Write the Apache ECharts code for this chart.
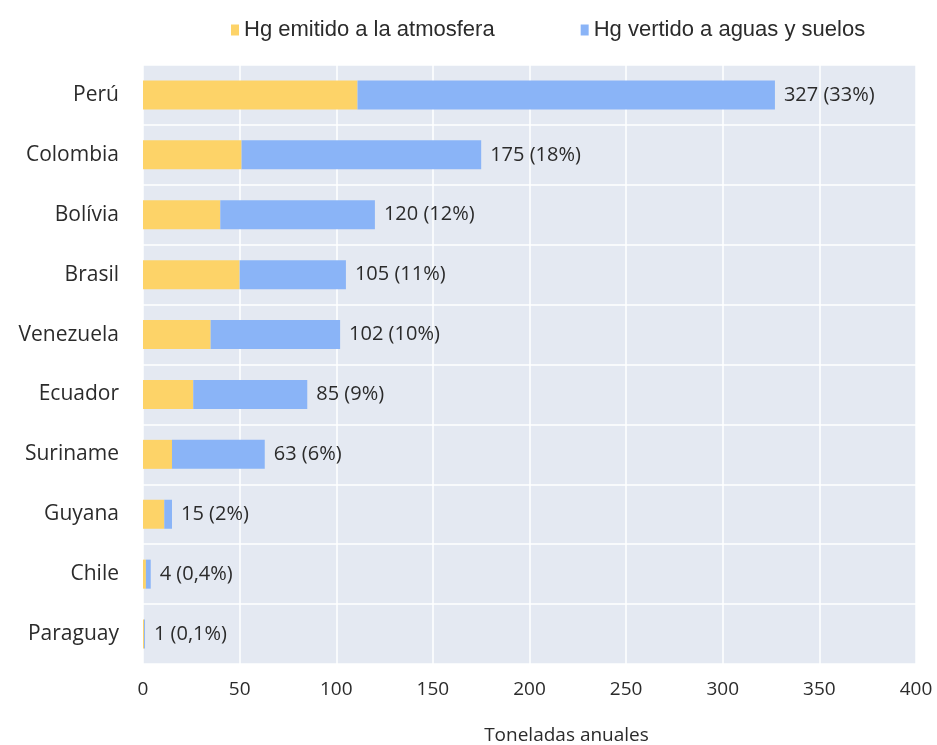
<!DOCTYPE html>
<html>
<head>
<meta charset="utf-8">
<script src="https://cdn.jsdelivr.net/npm/echarts@6/dist/echarts.min.js"></script>
<style>
  html, body { margin: 0; padding: 0; background: #ffffff; }
  #chart { width: 937px; height: 745px; }
</style>
</head>
<body>
<div id="chart"></div>
<script>
// Mercury released by artisanal gold mining, tonnes per year
const countries = ['Perú', 'Colombia', 'Bolívia', 'Brasil', 'Venezuela', 'Ecuador', 'Suriname', 'Guyana', 'Chile', 'Paraguay'];
const emittedAir = [111, 51, 40, 50, 35, 26, 15, 11, 1.5, 0.5];
const releasedWaterSoil = [216, 124, 80, 55, 67, 59, 48, 4, 2.5, 0.5];
const totalLabels = ['327 (33%)', '175 (18%)', '120 (12%)', '105 (11%)', '102 (10%)', '85 (9%)', '63 (6%)', '15 (2%)', '4 (0,4%)', '1 (0,1%)'];
const seriesNames = ['Hg emitido a la atmosfera', 'Hg vertido a aguas y suelos'];

const labelFont = '"Open Sans", "Noto Sans", sans-serif';
const textColor = '#2b2b2b';
const chart = echarts.init(document.getElementById('chart'));

chart.setOption({
  animation: false,
  backgroundColor: '#ffffff',
  color: ['#fdd368', '#8ab4f7'],
  legend: {
    top: 14,
    left: 226,
    itemGap: 86,
    itemWidth: 8,
    itemHeight: 11,
    icon: 'rect',
    textStyle: { fontFamily: '"Liberation Sans", Arial, sans-serif', fontSize: 22, color: textColor },
    data: seriesNames
  },
  grid: {
    left: 143, right: 21, top: 65, bottom: 81,
    outerBoundsMode: 'none',
    show: true, backgroundColor: '#e4e9f2', borderWidth: 0,
    containLabel: false
  },
  xAxis: {
    type: 'value',
    min: 0, max: 400, interval: 50,
    name: 'Toneladas anuales',
    nameLocation: 'middle',
    nameGap: 62,
    nameTextStyle: { fontFamily: labelFont, fontSize: 19, color: textColor, padding: [0, 0, 0, 74] },
    axisLine: { show: false },
    axisTick: { show: false },
    axisLabel: { margin: 16, fontFamily: labelFont, fontSize: 19, color: textColor },
    splitLine: { show: true, lineStyle: { color: '#ffffff', width: 1.5 } }
  },
  yAxis: {
    type: 'category',
    inverse: true,
    data: countries,
    axisLine: { show: false },
    axisTick: { show: false },
    axisLabel: { margin: 24, fontFamily: labelFont, fontSize: 21, color: textColor },
    splitLine: { show: true, lineStyle: { color: '#ffffff', width: 1.5 } }
  },
  series: [
    {
      name: seriesNames[0],
      type: 'bar',
      stack: 'hg',
      barWidth: 29,
      data: emittedAir
    },
    {
      name: seriesNames[1],
      type: 'bar',
      stack: 'hg',
      barWidth: 29,
      data: releasedWaterSoil,
      label: {
        show: true,
        position: 'right',
        distance: 9,
        fontFamily: labelFont,
        fontSize: 20,
        color: textColor,
        formatter: p => totalLabels[p.dataIndex]
      }
    }
  ]
});
</script>
</body>
</html>
